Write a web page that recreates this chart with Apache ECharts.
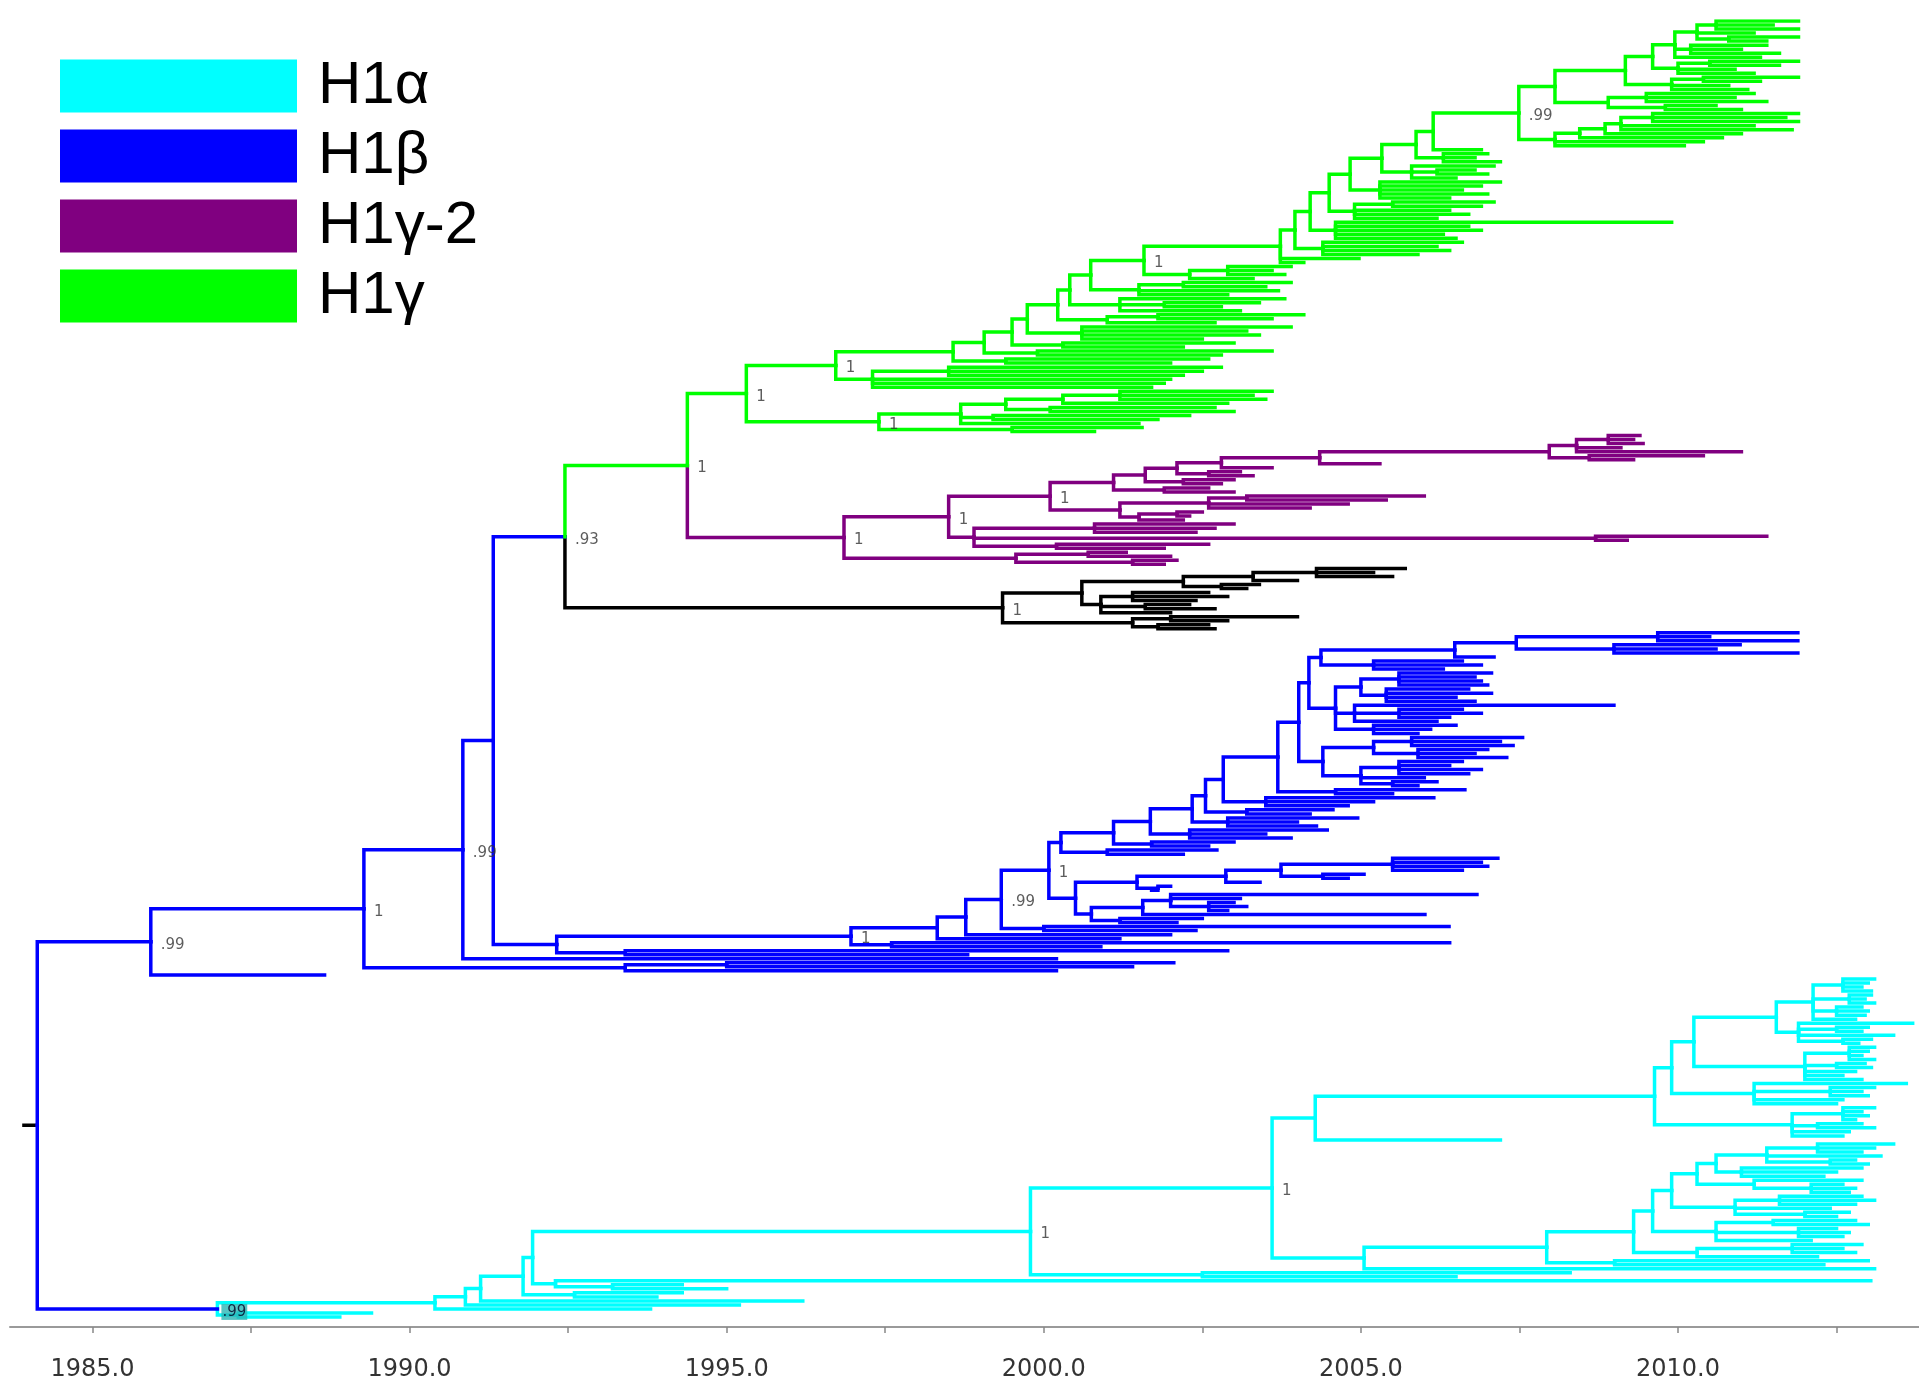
<!DOCTYPE html>
<html><head><meta charset="utf-8">
<script src="https://cdn.jsdelivr.net/npm/echarts@6/dist/echarts.min.js"></script>
<style>html,body{margin:0;padding:0;background:#fff}#c{width:1919px;height:1389px}</style>
</head><body><div id="c"></div>
<script>
// ---- axis ticks ----
const majorTicks = [1985, 1990, 1995, 2000, 2005, 2010];
const minorTicks = [1985, 1987.5, 1990, 1992.5, 1995, 1997.5, 2000, 2002.5, 2005, 2007.5, 2010, 2012.5];
const axisRange = [1983.7, 2013.8];
const rootStubStart = 1983.92;
// ---- legend ----
const cladeNames = ['H1α', 'H1β', 'H1γ-2', 'H1γ'];
const cladeKeys = ['c', 'b', 'p', 'g'];
const palette = {c: '#00ffff', b: '#0000ff', p: '#800080', g: '#00ff00', k: '#000000'};

// ---- tree data: node = [date, support, colourKey, ...children]; leaf = tip date ----
// H1gamma top cluster
const greenTopU = [2008.06, '', '',
  [2009.17, '', '',
    [2009.6, '', '',
      [2009.95, '', '', [2010.3, '', '', [2010.6, '', '', 2011.9, 2011.5, 2011.9], 2011.2, [2010.8, '', '', 2011.9, 2011.4]], [2010.2, '', '', 2011.4, 2011.0, 2011.6], 2011.3],
      [2010.0, '', '', [2010.5, '', '', 2011.9, 2011.6], 2010.9, 2011.2]],
    [2009.9, '', '', [2010.4, '', '', 2011.9, 2011.3], 2010.8, 2011.1]],
  [2008.9, '', '', [2009.5, '', '', 2011.2, 2010.9, 2011.4], [2009.8, '', '', 2010.6, 2011.0]]];
const greenTopL = [2008.06, '', '',
  [2008.45, '', '', [2008.85, '', '', [2009.1, '', '', [2009.6, '', '', 2011.9, 2011.7, 2011.9], 2011.2, 2011.8], 2011.0], 2010.7], 2010.4, 2010.1];
const greenTop = [2007.49, '.99', '', greenTopU, greenTopL];
// H1gamma ladder 2003-2006
const gA8 = [2006.14, '', '', greenTop, 2006.9];
const gA7 = [2005.87, '', '', gA8, [2006.3, '', '', 2007.0, 2006.8, 2007.2]];
const gA6 = [2005.33, '', '', gA7, [2005.8, '', '', 2007.1, [2006.2, '', '', 2006.8, 2007.0], 2006.5]];
const gA5 = [2004.83, '', '', gA6, [2005.3, '', '', 2007.2, 2006.9, 2006.6, 2007.0, 2006.4]];
const gA4 = [2004.5, '', '', gA5, [2004.9, '', '', [2005.5, '', '', 2007.1, 2006.9], 2006.4, 2006.7, 2006.2]];
const gA3 = [2004.2, '', '', gA4, [2004.6, '', '', 2009.9, 2006.7, 2006.9, 2006.3, 2006.5]];
const gA2 = [2003.96, '', '', gA3, [2004.4, '', '', 2006.6, 2006.2, 2006.4, 2005.9]];
const gA1 = [2003.73, '', '', gA2, 2004.97, 2004.1];
// H1gamma ladder 1998-2001 with side branches (big block)
const gC7 = [2001.58, '1', '', gA1, [2002.3, '', '', [2002.9, '', '', 2003.9, 2003.6, 2003.8], 2003.3]];
const gC6 = [2000.74, '', '', gC7, [2001.5, '', '', [2002.2, '', '', 2003.9, 2003.5], 2003.7, 2002.9]];
const gC5 = [2000.41, '', '', gC6, [2001.2, '', '', 2003.8, [2001.9, '', '', 2003.4, 2002.8], 2003.1]];
const gC4 = [2000.22, '', '', gC5, [2001.0, '', '', [2001.8, '', '', 2004.1, 2003.6], 2002.7]];
const gC3 = [1999.74, '', '', gC4, [2000.6, '', '', 2003.9, 2003.2, 2003.4, 2002.5]];
const gC2 = [1999.5, '', '', gC3, [2000.3, '', '', 2003.0, 2002.2]];
const gC1 = [1999.06, '', '', gC2, [1999.9, '', '', 2003.6, 2002.8]];
const gC0 = [1998.57, '', '', gC1, [1999.4, '', '', 2002.6, 2002.0]];
const gG2L = [1997.3, '', '', [1998.5, '', '', 2002.8, 2002.5, 2002.2], 2002.0, 2001.9, 2001.7];
const gG2 = [1996.72, '1', '', gC0, gG2L];
const gG1La = [1998.69, '', '', [1999.4, '', '', [2000.3, '', '', [2001.2, '', '', 2003.6, 2003.3, 2003.5], 2002.9], [2000.1, '', '', 2002.7, 2003.0]], [1999.2, '', '', 2002.3, 2001.8], 2001.5];
const gG1L = [1997.4, '1', '', gG1La, [1999.5, '', '', 2001.55, 2000.8]];
const gG1 = [1995.31, '1', '', gG2, gG1L];
// H1gamma-2
const pTop = [2007.97, '', '', [2008.4, '', '', [2008.9, '', '', 2009.4, 2009.3, 2009.45], 2009.1, 2011.0], [2008.6, '', '', 2010.4, 2009.3]];
const pN4 = [2004.35, '', '', pTop, 2005.3];
const pN3 = [2002.8, '', '', pN4, 2003.6];
const pN2 = [2002.1, '', '', pN3, [2002.6, '', '', 2003.1, 2003.3]];
const pN1 = [2001.6, '', '', pN2, [2002.2, '', '', 2003.0, 2002.8]];
const pUp = [2001.1, '', '', pN1, [2001.9, '', '', 2002.6, 2003.0]];
const pLow = [2001.2, '', '', [2002.6, '', '', [2003.2, '', '', 2006.0, 2005.4], 2004.8, 2004.2], [2001.5, '', '', [2002.1, '', '', 2002.5, 2002.3], 2002.2]];
const pP2u = [2000.1, '1', '', pUp, pLow];
const pP2l = [1998.9, '', '', [2000.8, '', '', 2003.0, 2002.7, 2002.4], [2008.7, '', '', 2011.4, 2009.2], [2000.2, '', '', 2002.6, 2001.9]];
const pP2 = [1998.5, '1', '', pP2u, pP2l];
const pP3 = [1999.56, '', '', [2000.7, '', '', 2001.3, 2002.0], [2001.4, '', '', 2002.1, 2001.9]];
const purpleClade = [1996.85, '1', 'p', pP2, pP3];
const gammaClade = [1994.38, '1', 'g', gG1, purpleClade];
// unlabelled black clade
const blackClade = [1999.35, '1', 'k',
  [2000.6, '', '', [2002.2, '', '', [2003.3, '', '', [2004.3, '', '', 2005.7, 2005.2, 2005.5], 2004.0], [2002.8, '', '', 2003.4, 2003.2]],
    [2000.9, '', '', [2001.4, '', '', 2002.6, 2002.9, 2002.4], [2001.6, '', '', 2002.3, 2002.7], 2002.0]],
  [2001.4, '', '', [2002.0, '', '', 2004.0, 2002.9], [2001.8, '', '', 2002.6, 2002.7]]];
// H1beta
const bTop = [2007.45, '', '', [2009.68, '', '', 2011.89, 2010.5, 2011.89], [2008.99, '', '', 2010.98, 2010.6, 2011.89]];
const bBlock2 = [2004.6, '', '', [2005.0, '', '', [2005.6, '', '', 2007.06, 2006.8, 2006.9, 2007.0], [2005.4, '', '', 2006.7, 2007.06, 2006.5, 2006.8]],
  [2004.9, '', '', 2008.99, [2005.6, '', '', 2006.6, 2006.9, 2006.4], 2006.2], [2005.2, '', '', 2006.5, 2006.1, 2005.9]];
const bBlock1 = [2004.4, '', '', [2005.2, '', '', [2005.8, '', '', 2007.55, 2007.2, 2007.4], [2005.9, '', '', 2007.0, 2006.8, 2007.3]],
  [2005.0, '', '', [2005.6, '', '', 2006.6, 2006.4, 2006.9, 2006.7], 2006.0, [2005.5, '', '', 2006.2, 2005.9]]];
const bL9 = [2004.37, '', '', [2006.48, '', '', bTop, 2007.1], [2005.2, '', '', 2006.6, 2006.9, 2006.3]];
const bL8 = [2004.18, '', '', bL9, bBlock2];
const bL7 = [2004.02, '', '', bL8, bBlock1];
const bL6 = [2003.69, '', '', bL7, [2004.6, '', '', 2006.64, 2005.5]];
const bL5 = [2002.83, '', '', bL6, [2003.5, '', '', 2006.15, 2005.2, 2004.8]];
const bL4 = [2002.55, '', '', bL5, [2003.2, '', '', 2004.56, 2004.2]];
const bL3 = [2002.34, '', '', bL4, [2002.9, '', '', 2004.95, 2004.0, 2004.3]];
const bL2 = [2001.68, '', '', bL3, [2002.3, '', '', 2004.47, 2003.5, 2003.9]];
const bL1 = [2001.1, '', '', bL2, [2001.7, '', '', 2003.0, 2002.6]];
const bLad0 = [2000.27, '', '', bL1, [2001.0, '', '', 2002.73, 2002.2]];
const bMid1 = [2001.47, '', '', [2002.87, '', '', [2003.74, '', '', [2005.5, '', '', 2007.16, 2006.9, 2007.0, 2006.6], [2004.4, '', '', 2005.05, 2004.8]], 2003.41], [2001.8, '', '', 2002.0, 2001.7]];
const bMid2 = [2000.75, '', '', [2001.56, '', '', [2002.0, '', '', 2006.83, 2003.1, [2002.6, '', '', 2003.0, 2003.2, 2002.9]], 2006.01], [2001.2, '', '', 2002.5, 2002.1]];
const bN2000 = [2000.08, '1', '', bLad0, [2000.5, '', '', bMid1, bMid2]];
const bN99c = [1999.33, '.99', '', bN2000, [2000.0, '', '', 2006.39, 2002.4]];
const bN963 = [1998.77, '', '', bN99c, 2002.0];
const bN937 = [1998.32, '', '', bN963, 2001.2];
const bN695 = [1996.96, '1', '', bN937, [1997.6, '', '', 2006.4, 2000.9]];
const bN455 = [1992.32, '', '', bN695, [1993.4, '', '', 2002.9, 1998.8]];
const bN93 = [1992.45, '.93', '', gammaClade, blackClade];
const bN403 = [1991.32, '', '', bN93, bN455];
const bN462 = [1990.84, '.99', '', bN403, 2000.2];
const bN364 = [1989.28, '1', '', bN462, [1993.4, '', '', [1995.0, '', '', 2002.05, 2001.4], 2000.2]];
const betaClade = [1985.92, '.99', '', bN364, 1988.66];
// H1alpha
const aN1776 = [2011.55, '', '',
  [2012.13, '', '', [2012.6, '', '', 2013.1, 2013.0, 2012.9, 2013.05], [2012.7, '', '', 2013.05, 2012.95, 2013.1], [2012.5, '', '', 2012.9, 2013.0, 2012.95], 2012.8],
  [2011.9, '', '', 2013.7, [2012.5, '', '', 2013.0, 2012.9], 2013.4, [2012.6, '', '', 2013.05, 2012.85]]];
const aN1694 = [2010.25, '', '', aN1776, [2012.0, '', '', [2012.7, '', '', 2013.1, 2013.0, 2012.9, 2013.1], [2012.5, '', '', 2012.95, 2013.05], 2012.8, 2012.6, 2012.9]];
const aN1672 = [2009.9, '', '', aN1694, [2011.2, '', '', 2013.6, [2012.4, '', '', 2013.1, 2012.9, 2013.0], 2012.6, 2012.5]];
const aN1654 = [2009.63, '', '', aN1672, [2011.8, '', '', [2012.6, '', '', 2013.1, 2012.9, 2013.0, 2012.8], [2012.2, '', '', 2012.9, 2013.1], 2012.7, 2012.6]];
const aN2004 = [2004.28, '', '', aN1654, 2007.2];
const aL5 = [2010.6, '', '', [2011.4, '', '', [2012.2, '', '', 2013.4, 2013.1, 2012.9], 2013.2, [2012.4, '', '', 2012.8, 2013.0]], [2011.0, '', '', 2012.9, 2012.5, 2012.3]];
const aL4 = [2010.3, '', '', aL5, [2011.2, '', '', 2012.9, [2012.1, '', '', 2012.6, 2012.8, 2012.7]]];
const aL3 = [2009.9, '', '', aL4, [2010.9, '', '', [2011.6, '', '', 2012.9, 2013.1, 2012.8], 2012.4, [2012.0, '', '', 2012.7, 2012.5]]];
const aL2 = [2009.6, '', '', aL3, [2010.6, '', '', [2011.5, '', '', 2012.8, 2013.0], [2011.9, '', '', 2012.5, 2012.7, 2012.6], 2012.1]];
const aL1 = [2009.3, '', '', aL2, [2010.3, '', '', [2011.8, '', '', 2012.9, 2012.6, 2012.8], 2012.2]];
const aL0 = [2007.93, '', '', aL1, [2009.0, '', '', 2013.0, 2012.3]];
const aN1364 = [2005.05, '', '', aL0, 2013.1];
const aN2003 = [2003.6, '1', '', aN2004, aN1364];
const aN2000 = [1999.79, '1', '', aN2003, [2002.5, '', '', 2008.3, 2006.5]];
const aN1991 = [1991.94, '', '', aN2000, [1992.3, '', '', 2013.04, [1993.2, '', '', 1994.3, 1995.0]]];
const aCb3 = [1991.79, '', '', aN1991, [1992.6, '', '', 1994.3, 1993.9]];
const aCb2 = [1991.12, '', '', aCb3, 1996.2];
const aCb1 = [1990.88, '', '', aCb2, 1995.2];
const alphaClade = [1986.97, '.99', '', [1990.4, '', 'c', aCb1, 1993.8], [1987.3, '', 'c', 1989.4, 1988.9]];
const treeRoot = [1984.13, '', 'b', betaClade, alphaClade];

// ---- layout (leaf order -> y) ----
let leafCount = 0;
function build(n, inh) {
  if (typeof n === 'number') return {t: n, y: leafCount++, col: inh, lab: '', kids: []};
  const col = n[2] || inh;
  const kids = n.slice(3).map(k => build(k, col));
  return {t: n[0], y: (kids[0].y + kids[kids.length - 1].y) / 2, col, lab: n[1], kids};
}
const root = build(treeRoot, 'b');
const segs = {c: [], b: [], p: [], g: [], k: []};
const nodeLabels = [];
(function walk(nd) {
  if (nd.lab) {
    const boxed = nd.col !== 'c' && nd.kids.some(k => k.col === 'c');
    const item = {value: [nd.t, nd.y], name: nd.lab};
    if (boxed) item.label = {backgroundColor: '#2ab5b5', color: '#002', padding: [1, 1, 0, 1], offset: [-6, 3]};
    nodeLabels.push(item);
  }
  nd.kids.forEach(k => {
    segs[k.col].push({coords: [[nd.t, nd.y], [nd.t, k.y], [k.t, k.y]]});
    walk(k);
  });
})(root);
segs.k.push({coords: [[rootStubStart, root.y], [root.t, root.y]]});
const yMax = (leafCount - 1) * 1306 / 1296;

function lineSeries(name, key) {
  return {
    name, type: 'lines', coordinateSystem: 'cartesian2d', polyline: true, silent: true,
    lineStyle: {color: palette[key], width: 3.5, opacity: 1, join: 'miter', cap: 'square'},
    itemStyle: {color: palette[key]},
    data: segs[key], z: 2
  };
}

const chart = echarts.init(document.getElementById('c'), null, {renderer: 'canvas'});
chart.setOption({
  animation: false,
  backgroundColor: '#ffffff',
  grid: {left: 10, right: 0, top: 21, bottom: 62},
  xAxis: {
    type: 'value', min: axisRange[0], max: axisRange[1], position: 'bottom',
    splitLine: {show: false},
    axisLine: {show: true, onZero: false, lineStyle: {color: '#9a9a9a', width: 2}},
    axisTick: {show: true, customValues: minorTicks, length: 6, lineStyle: {color: '#888', width: 1.5}},
    axisLabel: {customValues: majorTicks, formatter: v => v.toFixed(1), fontFamily: 'DejaVu Sans', fontSize: 24, color: '#333', margin: 31}
  },
  yAxis: {type: 'value', inverse: true, min: 0, max: yMax, show: false},
  legend: {
    orient: 'vertical', left: 55, top: 51, itemWidth: 235, itemHeight: 51, itemGap: 10,
    selectedMode: false,
    textStyle: {fontFamily: 'Liberation Sans', fontSize: 60, color: '#000', lineHeight: 51, padding: [0, 0, 0, 17]},
    data: cladeNames.map((n, i) => ({name: n, icon: 'rect', itemStyle: {color: palette[cladeKeys[i]]}}))
  },
  series: [
    lineSeries('', 'k'),
    lineSeries(cladeNames[0], 'c'),
    lineSeries(cladeNames[1], 'b'),
    lineSeries(cladeNames[2], 'p'),
    lineSeries(cladeNames[3], 'g'),
    {
      type: 'scatter', silent: true, symbolSize: 0, z: 5,
      label: {show: true, position: 'right', distance: 10, offset: [0, 3], formatter: '{b}', fontFamily: 'DejaVu Sans', fontSize: 15, color: '#333'},
      data: nodeLabels
    }
  ]
});
</script>
</body></html>
